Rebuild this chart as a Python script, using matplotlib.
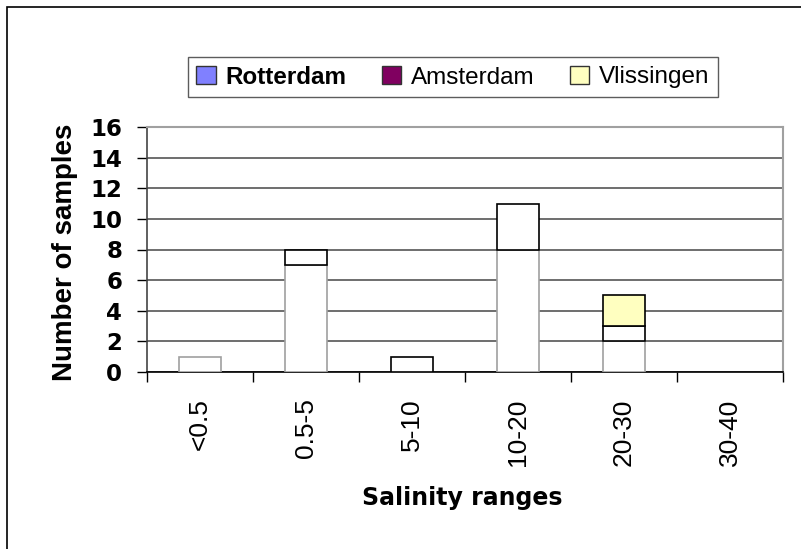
import matplotlib
matplotlib.use("Agg")
import matplotlib.pyplot as plt
import numpy as np
from matplotlib.patches import Patch, Rectangle

# === Data ===
categories = ["<0.5", "0.5-5", "5-10", "10-20", "20-30", "30-40"]
rotterdam = [1, 7, 0, 8, 2, 0]
amsterdam = [0, 1, 1, 3, 1, 0]
vlissingen = [0, 0, 0, 0, 2, 0]
yticks = [0, 2, 4, 6, 8, 10, 12, 14, 16]

plt.rcParams['font.family'] = ['Liberation Sans', 'DejaVu Sans']

fig = plt.figure(figsize=(8.01, 5.49), dpi=100)
ax = fig.add_axes([147 / 801, 1 - 372 / 549, (783 - 147) / 801, (372 - 127) / 549])

x = np.arange(len(categories))
w = 0.39
r = np.array(rotterdam)
a = np.array(amsterdam)
v = np.array(vlissingen)


def stack(vals, bottom, face, edge):
    # skip empty segments so no flat lines are drawn
    m = vals > 0
    ax.bar(x[m], vals[m], w, bottom=bottom[m], color=face, edgecolor=edge,
           linewidth=1.2, zorder=3)


# bars (white fill as in the original export)
stack(r, np.zeros_like(r), "white", "#a0a0a0")
stack(a, r, "white", "black")
stack(v, r + a, "#ffffc0", "black")

# axes look
ax.set_xlim(-0.5, len(categories) - 0.5)
ax.set_ylim(0, 16)
ax.set_yticks(yticks)
ax.set_yticklabels([str(t) for t in yticks], fontsize=16.5, fontweight="bold",
                   family="DejaVu Sans")
ax.set_xticks(np.arange(len(categories) + 1) - 0.5)
ax.set_xticklabels([])
ax.set_xticks(x, minor=True)
ax.set_xticklabels(categories, minor=True, rotation=90, fontsize=19)
ax.tick_params(axis="x", which="major", length=7, direction="out", width=1)
ax.tick_params(axis="x", which="minor", length=0, pad=19)
ax.tick_params(axis="y", length=7, direction="out", width=1, pad=11)

ax.grid(axis="y", color="#555555", linewidth=1.2, zorder=0)
ax.spines["top"].set_color("#a0a0a0")
ax.spines["top"].set_linewidth(1.5)
ax.spines["right"].set_color("#a0a0a0")
ax.spines["right"].set_linewidth(1.5)
ax.spines["left"].set_color("#444444")
ax.spines["left"].set_linewidth(1.2)
ax.spines["bottom"].set_linewidth(1.2)

ax.set_ylabel("Number of samples", fontsize=20, fontweight="bold")
ax.yaxis.set_label_coords(-0.108, 0.49)
ax.set_xlabel("Salinity ranges", fontsize=17, fontweight="bold", family="DejaVu Sans")
ax.xaxis.set_label_coords(0.495, -0.465)

# legend
handles = [
    Patch(facecolor="#8080ff", edgecolor="#333333", label="Rotterdam"),
    Patch(facecolor="#800060", edgecolor="#333333", label="Amsterdam"),
    Patch(facecolor="#ffffc0", edgecolor="#333333", label="Vlissingen"),
]
leg = fig.legend(handles=handles, loc="center", bbox_to_anchor=(453 / 801, 1 - 77 / 549),
                 ncol=3, fontsize=17.5, frameon=True, fancybox=False, edgecolor="#333333",
                 handlelength=0.8, handleheight=0.75, handletextpad=0.4,
                 columnspacing=1.45, borderpad=0.35)
leg.get_frame().set_linewidth(1.0)
leg.get_texts()[0].set_fontweight("bold")

# outer frame of the chart area
fig.patches.append(Rectangle((7 / 801, -0.05), 1.0, 1 - 7 / 549 + 0.05,
                             transform=fig.transFigure, fill=False,
                             edgecolor="black", linewidth=1.2))

fig.savefig("out.png", dpi=100)
